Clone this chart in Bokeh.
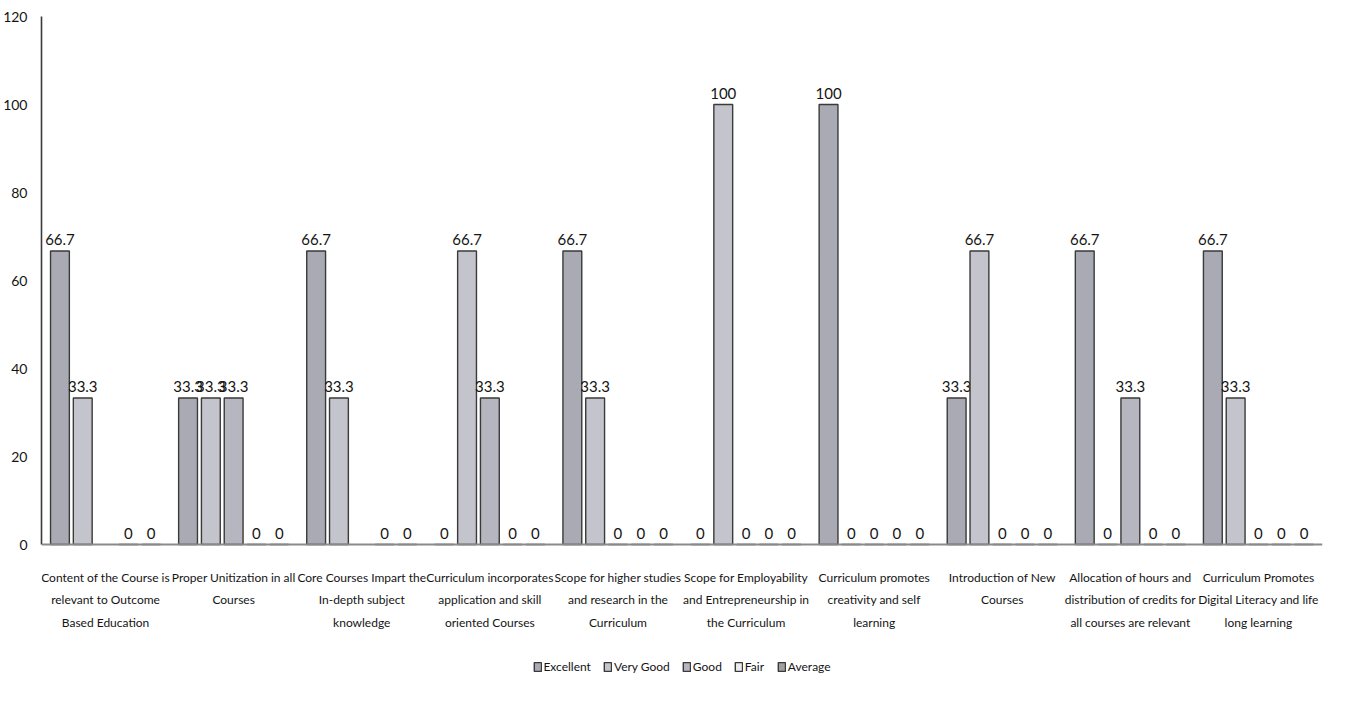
from bokeh.plotting import figure
from bokeh.models import (ColumnDataSource, Legend, LegendItem, FactorRange,
                          FixedTicker, Span)
from bokeh.transform import dodge
from bokeh.core.properties import value
from bokeh.embed import file_html
from bokeh.resources import INLINE

categories = [
    "Content of the Course is\nrelevant to Outcome\nBased Education",
    "Proper Unitization in all\nCourses",
    "Core Courses Impart the\nIn-depth subject\nknowledge",
    "Curriculum incorporates\napplication and skill\noriented Courses",
    "Scope for higher studies\nand research in the\nCurriculum",
    "Scope for Employability\nand Entrepreneurship in\nthe Curriculum",
    "Curriculum promotes\ncreativity and self\nlearning",
    "Introduction of New\nCourses",
    "Allocation of hours and\ndistribution of credits for\nall courses are relevant",
    "Curriculum Promotes\nDigital Literacy and life\nlong learning",
]
series_names = ["Excellent", "Very Good", "Good", "Fair", "Average"]
excellent = [66.7, 33.3, 66.7, 0, 66.7, 0, 100, 33.3, 66.7, 66.7]
very_good = [33.3, 33.3, 33.3, 66.7, 33.3, 100, 0, 66.7, 0, 33.3]
good = [None, 33.3, None, 33.3, 0, 0, 0, 0, 33.3, 0]
fair = [0, 0, 0, 0, 0, 0, 0, 0, 0, 0]
average = [0, 0, 0, 0, 0, 0, 0, 0, 0, 0]
y_ticks = [0, 20, 40, 60, 80, 100, 120]

series_values = [excellent, very_good, good, fair, average]
fills = ["#aaaab4", "#c4c4cc", "#b6b6c0", "#ececf0", "#a0a0a4"]
offsets = [-0.356, -0.178, 0.0, 0.178, 0.356]
FONT = "Lato"
TXT = "#141414"

Y_MAX = 120
# the plot frame extends below zero so that category labels and legend sit inside it
Y_MIN = -Y_MAX * 142 / 528

p = figure(
    x_range=FactorRange(*categories, range_padding=0),
    y_range=(Y_MIN, Y_MAX),
    width=1333, height=686,
    output_backend="svg", toolbar_location=None,
    min_border_left=34, min_border_right=11, min_border_top=16, min_border_bottom=0,
)
p.outline_line_color = None
p.xgrid.visible = False
p.ygrid.visible = False
p.xaxis.visible = False
p.background_fill_color = "white"
p.border_fill_color = "white"

items = []
for name, vals, col, off in zip(series_names, series_values, fills, offsets):
    cats = [c for c, v in zip(categories, vals) if v is not None]
    vs = [v for v in vals if v is not None]
    labels = [("%g" % v) for v in vs]
    src = ColumnDataSource(dict(cat=cats, val=vs, lab=labels))
    r = p.vbar(x=dodge("cat", off, range=p.x_range), top="val", width=0.147,
               source=src, fill_color=col, line_color="#3a3a3a", line_width=1.4)
    p.text(x=dodge("cat", off, range=p.x_range), y="val", text="lab", source=src,
           text_align="center", text_baseline="bottom", y_offset=-6,
           text_font=value(FONT), text_font_size="15px", text_color=TXT)
    items.append(LegendItem(label=name, renderers=[r]))

# x baseline at zero
p.add_layout(Span(location=0, dimension="width", line_color="#8a8a8a", line_width=2))

yax = p.yaxis[0]
yax.ticker = FixedTicker(ticks=y_ticks)
yax.bounds = (0, Y_MAX)
yax.major_tick_line_color = None
yax.minor_tick_line_color = None
yax.axis_line_color = "#3a3a3a"
yax.axis_line_width = 1.6
yax.major_label_text_font = FONT
yax.major_label_text_font_size = "14px"
yax.major_label_text_color = TXT
yax.major_label_standoff = 8

# category labels (multi-line) under the baseline
cat_src = ColumnDataSource(dict(cat=categories, y=[0] * len(categories), lab=categories))
p.text(x="cat", y="y", text="lab", source=cat_src,
       text_align="center", text_baseline="top", y_offset=25,
       text_font=value(FONT), text_font_size="12px", text_color=TXT,
       text_line_height=1.5)

legend = Legend(items=items, orientation="horizontal", location="bottom_center",
                label_text_font=FONT, label_text_font_size="12px", label_text_color=TXT,
                glyph_width=9, glyph_height=11, spacing=12, label_standoff=2,
                border_line_color=None, background_fill_alpha=0, margin=12, padding=4)
p.add_layout(legend, "center")

open("out.html", "w").write(file_html(p, INLINE))
